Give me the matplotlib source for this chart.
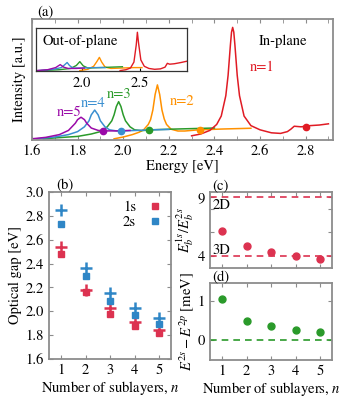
import matplotlib
matplotlib.use("Agg")
import matplotlib.pyplot as plt
from matplotlib.ticker import MultipleLocator

plt.rcParams["font.family"] = ["STIXGeneral", "DejaVu Serif"]
plt.rcParams["mathtext.fontset"] = "stix"
plt.rcParams["font.size"] = 10.5

RED, ORANGE, GREEN, BLUE, PURPLE = "#e01b24", "#ff9100", "#2a9a2a", "#3a8fd0", "#9a0aa8"
RED_B, BLUE_B = "#dc3250", "#2f86c6"
SPINE = "#8c8c8c"

# ---- panel (a): in-plane spectra (energy, intensity a.u.)
e_n1 = [2.30, 2.34, 2.38, 2.41, 2.43, 2.45, 2.46, 2.47, 2.475, 2.48, 2.485, 2.49, 2.50, 2.51,
        2.53, 2.56, 2.60, 2.65, 2.69, 2.72, 2.735, 2.75, 2.78, 2.82, 2.86, 2.90]
i_n1 = [0.025, 0.04, 0.07, 0.12, 0.19, 0.36, 0.53, 0.78, 0.89, 0.93, 0.89, 0.78, 0.53, 0.36,
        0.19, 0.11, 0.075, 0.05, 0.045, 0.06, 0.08, 0.105, 0.10, 0.11, 0.115, 0.125]
e_n2 = [1.96, 2.00, 2.04, 2.07, 2.09, 2.11, 2.12, 2.13, 2.14, 2.15, 2.16, 2.17, 2.18, 2.19,
        2.21, 2.24, 2.27, 2.30, 2.33, 2.38, 2.44, 2.50, 2.56]
i_n2 = [0.0, 0.015, 0.035, 0.055, 0.076, 0.12, 0.16, 0.24, 0.37, 0.45, 0.37, 0.24, 0.165, 0.12,
        0.08, 0.065, 0.065, 0.07, 0.075, 0.078, 0.082, 0.085, 0.088]
e_n3 = [1.65, 1.72, 1.80, 1.86, 1.90, 1.93, 1.95, 1.96, 1.97, 1.98, 1.99, 2.00, 2.01, 2.03,
        2.05, 2.08, 2.12, 2.20, 2.30, 2.40]
i_n3 = [0.0, 0.01, 0.02, 0.04, 0.06, 0.10, 0.15, 0.20, 0.27, 0.31, 0.27, 0.20, 0.15, 0.10,
        0.075, 0.068, 0.075, 0.08, 0.085, 0.09]
e_n4 = [1.62, 1.70, 1.76, 1.80, 1.83, 1.85, 1.86, 1.875, 1.89, 1.90, 1.92, 1.94, 1.97, 2.00,
        2.06, 2.13, 2.20]
i_n4 = [0.0, 0.015, 0.035, 0.06, 0.10, 0.15, 0.20, 0.24, 0.20, 0.15, 0.10, 0.075, 0.066, 0.066,
        0.07, 0.075, 0.078]
e_n5 = [1.60, 1.66, 1.72, 1.76, 1.79, 1.80, 1.815, 1.83, 1.84, 1.86, 1.89, 1.93, 1.98, 2.03]
i_n5 = [0.0, 0.012, 0.035, 0.07, 0.13, 0.16, 0.18, 0.16, 0.13, 0.09, 0.07, 0.066, 0.066, 0.07]
dot_e = [1.91, 1.99, 2.115, 2.335, 2.80]
dot_i = [0.066, 0.066, 0.075, 0.075, 0.10]

# ---- inset: out-of-plane spectra
oe_n1 = [2.33, 2.38, 2.42, 2.45, 2.47, 2.48, 2.49, 2.51, 2.54, 2.58, 2.63, 2.68, 2.72, 2.74,
         2.76, 2.80, 2.86, 2.91]
oi_n1 = [0.0, 0.02, 0.06, 0.2, 0.6, 0.9, 0.65, 0.25, 0.1, 0.05, 0.03, 0.04, 0.08, 0.17,
         0.15, 0.16, 0.19, 0.22]
oe_n2 = [1.98, 2.05, 2.10, 2.13, 2.15, 2.17, 2.20, 2.25, 2.35, 2.45, 2.52]
oi_n2 = [0.0, 0.03, 0.10, 0.22, 0.31, 0.20, 0.08, 0.05, 0.06, 0.07, 0.07]
oe_n3 = [1.65, 1.80, 1.90, 1.95, 1.98, 2.01, 2.05, 2.15, 2.25, 2.35]
oi_n3 = [0.0, 0.02, 0.05, 0.12, 0.21, 0.11, 0.06, 0.07, 0.08, 0.09]
oe_n4 = [1.62, 1.75, 1.82, 1.85, 1.87, 1.89, 1.92, 2.00, 2.10, 2.20]
oi_n4 = [0.0, 0.03, 0.07, 0.14, 0.19, 0.12, 0.06, 0.06, 0.07, 0.07]
oe_n5 = [1.60, 1.70, 1.77, 1.81, 1.84, 1.88, 1.95, 2.02]
oi_n5 = [0.0, 0.02, 0.07, 0.14, 0.08, 0.05, 0.05, 0.06]

# ---- panels (b)-(d)
n = [1, 2, 3, 4, 5]
gap_1s = [2.48, 2.16, 1.98, 1.88, 1.82]
gap_1s_plus = [2.54, 2.18, 2.03, 1.91, 1.84]
gap_2s = [2.73, 2.30, 2.09, 1.97, 1.89]
gap_2s_plus = [2.85, 2.36, 2.15, 2.03, 1.94]
ratio = [6.12, 4.81, 4.29, 3.94, 3.71]
split = [1.04, 0.50, 0.35, 0.27, 0.21]


def style(ax):
    for s in ax.spines.values():
        s.set_color(SPINE)
        s.set_linewidth(1.3)
    ax.tick_params(which="both", direction="in", top=True, right=True, color=SPINE, length=3)


fig = plt.figure(figsize=(3.5, 4.0), dpi=100)

# (a)
ax = fig.add_axes([0.0914, 0.65, 0.86, 0.3025])
style(ax)
for e, i, c in [(e_n2, i_n2, ORANGE), (e_n3, i_n3, GREEN), (e_n4, i_n4, BLUE),
                (e_n5, i_n5, PURPLE), (e_n1, i_n1, RED)]:
    ax.plot(e, i, color=c, lw=1.1)
for x, y, c in zip(dot_e, dot_i, [PURPLE, BLUE, GREEN, ORANGE, RED]):
    ax.plot(x, y, "o", color=c, ms=4.5, zorder=5)
ax.set_xlim(1.6, 2.92)
ax.set_ylim(-0.01, 1.0)
ax.xaxis.set_major_locator(MultipleLocator(0.2))
ax.xaxis.set_minor_locator(MultipleLocator(0.1))
ax.set_yticks([])
ax.set_xlabel("Energy [eV]", labelpad=1)
ax.set_ylabel("Intensity [a.u.]", labelpad=4)
ax.text(1.763, 0.22, "n=5", color=PURPLE, ha="center", va="center")
ax.text(1.87, 0.30, "n=4", color=BLUE, ha="center", va="center")
ax.text(1.98, 0.37, "n=3", color=GREEN, ha="center", va="center")
ax.text(2.26, 0.31, "n=2", color=ORANGE, ha="center", va="center")
ax.text(2.61, 0.60, "n=1", color=RED, ha="center", va="center")
ax.text(2.70, 0.81, "In-plane", ha="center", va="center")
fig.text(0.13, 0.97, "(a)", ha="center", va="center")

# inset
axi = fig.add_axes([0.103, 0.8225, 0.431, 0.1075])
for s in axi.spines.values():
    s.set_color("#333333")
    s.set_linewidth(0.9)
for e, i, c in [(oe_n2, oi_n2, ORANGE), (oe_n3, oi_n3, GREEN), (oe_n4, oi_n4, BLUE),
                (oe_n5, oi_n5, PURPLE), (oe_n1, oi_n1, RED)]:
    axi.plot(e, i, color=c, lw=1.0)
axi.set_xlim(1.6, 2.91)
axi.set_ylim(-0.01, 1.0)
axi.set_xticks([2.0, 2.5])
axi.set_xticklabels(["2.0", "2.5"])
axi.set_yticks([])
axi.tick_params(direction="in", length=2.5, pad=4)
axi.text(0.04, 0.70, "Out-of-plane", transform=axi.transAxes, ha="left", va="center")

# (b)
axb = fig.add_axes([0.14, 0.1025, 0.349, 0.4175])
style(axb)
axb.plot(n, gap_1s_plus, "+", color=RED_B, ms=8, mew=1.8)
axb.plot(n, gap_2s_plus, "+", color=BLUE_B, ms=8, mew=1.8)
axb.plot(n, gap_1s, "s", color=RED_B, ms=5, label="1s")
axb.plot(n, gap_2s, "s", color=BLUE_B, ms=5, label="2s")
axb.set_xlim(0.5, 5.5)
axb.set_ylim(1.6, 3.0)
axb.set_xticks(n)
axb.set_yticks([1.6, 1.8, 2.0, 2.2, 2.4, 2.6, 2.8, 3.0])
axb.set_yticklabels(["1.6", "1.8", "2.0", "2.2", "2.4", "2.6", "2.8", "3.0"])
axb.set_ylabel("Optical gap [eV]", labelpad=3)
axb.set_xlabel("Number of sublayers, $n$", labelpad=1)
axb.legend(loc="upper right", markerfirst=False, frameon=False, handlelength=1.0,
           handletextpad=0.8, labelspacing=0.1, borderaxespad=0.2)
fig.text(0.185, 0.537, "(b)", ha="center", va="center")

# (c)
axc = fig.add_axes([0.60, 0.33, 0.349, 0.19])
style(axc)
axc.axhline(9, color=RED_B, ls=(0, (4, 3)), lw=1.2)
axc.axhline(4, color=RED_B, ls=(0, (4, 3)), lw=1.2)
axc.plot(n, ratio, "o", color=RED_B, ms=5)
axc.set_xlim(0.5, 5.5)
axc.set_ylim(2.96, 9.4)
axc.set_xticks(n)
axc.set_xticklabels([])
axc.set_yticks([4, 6, 8, 9])
axc.set_yticklabels(["4", "", "", "9"])
axc.set_ylabel("$E_b^{1s}/E_b^{2s}$", labelpad=1)
axc.text(0.62, 8.3, "2D", ha="left", va="center")
axc.text(0.62, 4.5, "3D", ha="left", va="center")
fig.text(0.63, 0.537, "(c)", ha="center", va="center")

# (d)
axd = fig.add_axes([0.60, 0.10, 0.349, 0.1925])
style(axd)
axd.axhline(0, color=GREEN, ls=(0, (4, 3)), lw=1.2)
axd.plot(n, split, "o", color=GREEN, ms=5)
axd.set_xlim(0.5, 5.5)
axd.set_ylim(-0.51, 1.46)
axd.set_xticks(n)
axd.set_yticks([0, 1])
axd.set_ylabel("$E^{2s}-E^{2p}$ [meV]", labelpad=1)
axd.set_xlabel("Number of sublayers, $n$", labelpad=1)
fig.text(0.63, 0.307, "(d)", ha="center", va="center")

fig.savefig("out.png", dpi=100)
